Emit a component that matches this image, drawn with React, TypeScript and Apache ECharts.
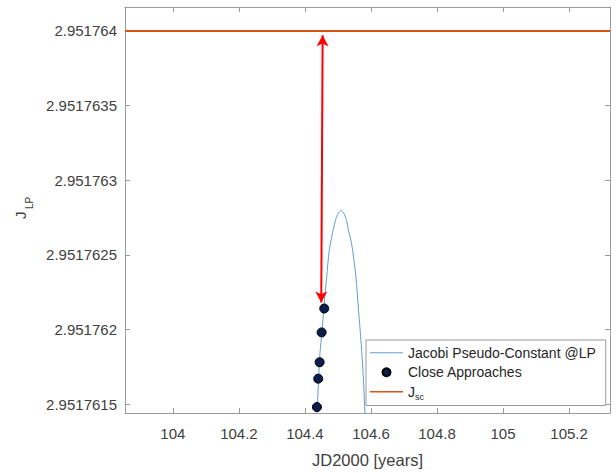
import React, { useEffect, useRef } from "react";
import * as echarts from "echarts";

// Jacobi pseudo-constant curve (x: JD2000 years, y: J)
const curveX = [104.4333, 104.4373, 104.4415, 104.4455, 104.4515, 104.4576, 104.4658, 104.4736, 104.4803, 104.4858, 104.4924, 104.4985, 104.5045, 104.5091, 104.5136, 104.5197, 104.5258, 104.5312, 104.5379, 104.5445, 104.5545, 104.5615, 104.5667, 104.5718, 104.5773, 104.5818, 104.5848];
const curveY = [2.95176136, 2.95176148, 2.95176167, 2.95176184, 2.95176198, 2.95176215, 2.95176235, 2.95176253, 2.95176261, 2.95176267, 2.95176273, 2.95176277, 2.95176279, 2.9517628, 2.95176279, 2.95176277, 2.95176273, 2.95176267, 2.95176261, 2.95176253, 2.95176235, 2.95176215, 2.95176201, 2.95176186, 2.95176166, 2.95176144, 2.95176134];

// Close approaches
const approachX = [104.4585, 104.4506, 104.4445, 104.4403, 104.4364];
const approachY = [2.95176214, 2.95176198, 2.95176178, 2.95176167, 2.95176148];

// J_sc constant
const jsc = 2.951764;

// Axis extents and ticks
const xMin = 103.855;
const xMax = 105.324;
const yMin = 2.95176144;
const yMax = 2.95176416;
const xTicks = [104, 104.2, 104.4, 104.6, 104.8, 105, 105.2];
const yTicks = [2.9517615, 2.951762, 2.9517625, 2.951763, 2.9517635, 2.951764];

// Red double arrow (from J_sc down to first close approach)
const arrowTop = [104.4536, 2.95176397];
const arrowBottom = [104.4494, 2.95176218];

const FONT = "'Liberation Sans', Arial, Helvetica, sans-serif";
const AXIS_COLOR = "#9a9a9a";
const TEXT_COLOR = "#404040";

export default function App() {
  const ref = useRef<HTMLDivElement>(null);
  useEffect(() => {
    if (!ref.current) return;
    const chart = echarts.init(ref.current, undefined, { renderer: "svg" });
    const axisLine = { show: true, onZero: false, lineStyle: { color: AXIS_COLOR, width: 1 } };
    const option: any = {
      animation: false,
      backgroundColor: "#ffffff",
      textStyle: { fontFamily: FONT },
      grid: { left: 125, right: 6, top: 7, bottom: 60, containLabel: false },
      xAxis: [
        {
          type: "value",
          min: xMin,
          max: xMax,
          position: "bottom",
          axisLine,
          splitLine: { show: false },
          axisTick: { show: true, inside: true, length: 5, customValues: xTicks, lineStyle: { color: AXIS_COLOR } },
          axisLabel: {
            show: true,
            customValues: xTicks,
            margin: 13,
            fontSize: 15,
            color: TEXT_COLOR,
            fontFamily: FONT,
            formatter: (v: number) => String(Math.round(v * 10) / 10),
          },
          name: "JD2000 [years]",
          nameLocation: "middle",
          nameGap: 38,
          nameTextStyle: { fontSize: 16.5, color: TEXT_COLOR, fontFamily: FONT },
        },
        {
          type: "value",
          min: xMin,
          max: xMax,
          position: "top",
          axisLine,
          splitLine: { show: false },
          axisTick: { show: true, inside: true, length: 5, customValues: xTicks, lineStyle: { color: AXIS_COLOR } },
          axisLabel: { show: false, customValues: xTicks },
        },
      ],
      yAxis: [
        {
          type: "value",
          min: yMin,
          max: yMax,
          position: "left",
          scale: true,
          axisLine,
          splitLine: { show: false },
          axisTick: { show: true, inside: true, length: 5, customValues: yTicks, lineStyle: { color: AXIS_COLOR } },
          axisLabel: {
            show: true,
            customValues: yTicks,
            margin: 8,
            fontSize: 15,
            color: TEXT_COLOR,
            fontFamily: FONT,
            formatter: (v: number) => String(Number(v.toPrecision(8))),
          },
        },
        {
          type: "value",
          min: yMin,
          max: yMax,
          position: "right",
          scale: true,
          axisLine,
          splitLine: { show: false },
          axisTick: { show: true, inside: true, length: 5, customValues: yTicks, lineStyle: { color: AXIS_COLOR } },
          axisLabel: { show: false, customValues: yTicks },
        },
      ],
      legend: {
        show: true,
        orient: "vertical",
        left: 366,
        top: 340,
        padding: [3, 10, 4, 4],
        itemGap: 0,
        itemWidth: 33,
        itemHeight: 8,
        symbolKeepAspect: true,
        backgroundColor: "#ffffff",
        borderColor: AXIS_COLOR,
        borderWidth: 1,
        borderRadius: 0,
        selectedMode: false,
        data: [
          { name: "Jacobi Pseudo-Constant @LP", icon: "path://M0,0h40v1.3h-40z" },
          { name: "Close Approaches", icon: "circle" },
          { name: "Jsc", icon: "path://M0,0h40v2h-40z" },
        ],
        textStyle: {
          fontSize: 14,
          color: "#262626",
          fontFamily: FONT,
          lineHeight: 19.5,
          rich: {
            j: { fontSize: 14, color: "#262626", fontFamily: FONT, lineHeight: 19.5 },
            s: { fontSize: 9, color: "#262626", fontFamily: FONT, verticalAlign: "bottom", lineHeight: 12 },
          },
        },
        formatter: (name: string) => (name === "Jsc" ? "{j|J}{s|sc}" : name),
      },
      series: [
        {
          name: "Jacobi Pseudo-Constant @LP",
          type: "line",
          xAxisIndex: 0,
          yAxisIndex: 0,
          data: curveX.map((x, i) => [x, curveY[i]]),
          symbol: "none",
          smooth: 0.3,
          smoothMonotone: "none",
          clip: true,
          lineStyle: { color: "#5f9ed3", width: 1 },
          itemStyle: { color: "#5f9ed3" },
          z: 2,
        },
        {
          name: "Close Approaches",
          type: "scatter",
          xAxisIndex: 0,
          yAxisIndex: 0,
          data: approachX.map((x, i) => [x, approachY[i]]),
          symbol: "circle",
          symbolSize: 9,
          clip: true,
          itemStyle: { color: "#0b1d4d", borderColor: "#000000", borderWidth: 1, opacity: 1 },
          z: 4,
        },
        {
          name: "Jsc",
          type: "line",
          xAxisIndex: 0,
          yAxisIndex: 0,
          data: [
            [xMin, jsc],
            [xMax, jsc],
          ],
          symbol: "none",
          lineStyle: { color: "#D95319", width: 2 },
          itemStyle: { color: "#D95319" },
          z: 3,
          markLine: {
            silent: true,
            symbol: ["arrow", "arrow"],
            symbolSize: [9, 11],
            label: { show: false },
            lineStyle: { color: "#ff0000", width: 2, type: "solid" },
            data: [[{ coord: arrowTop }, { coord: arrowBottom }]],
          },
        },
      ],
      graphic: [
        {
          type: "text",
          x: 20,
          y: 219,
          rotation: Math.PI / 2,
          style: { text: "J", fontSize: 15, fill: TEXT_COLOR, fontFamily: FONT, align: "left", verticalAlign: "middle" },
        },
        {
          type: "text",
          x: 29.5,
          y: 209,
          rotation: Math.PI / 2,
          style: { text: "LP", fontSize: 10, fill: TEXT_COLOR, fontFamily: FONT, align: "left", verticalAlign: "middle" },
        },
      ],
    };
    chart.setOption(option);
    return () => chart.dispose();
  }, []);
  return (
    <div
      ref={ref}
      style={{ position: "fixed", left: 0, top: 0, width: 616, height: 473, background: "#fff" }}
    />
  );
}
